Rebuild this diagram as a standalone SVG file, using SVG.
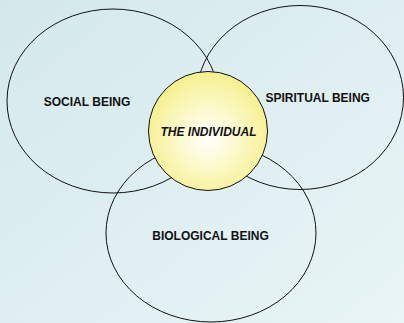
<svg xmlns="http://www.w3.org/2000/svg" width="404" height="323" viewBox="0 0 404 323">
<defs>
<linearGradient id="bg" x1="0" y1="0" x2="1" y2="1">
<stop offset="0" stop-color="#d4e8ec"/>
<stop offset="1" stop-color="#e9f5f7"/>
</linearGradient>
<radialGradient id="yel" cx="0.5" cy="0.55" r="0.55">
<stop offset="0" stop-color="#ffffff"/>
<stop offset="0.35" stop-color="#fdfbd8"/>
<stop offset="1" stop-color="#f6ef8c"/>
</radialGradient>
<style>
.ring{fill:none;stroke:#111;stroke-width:1}
.lbl{font-family:"Liberation Sans",Arial,sans-serif;font-size:12px;font-weight:bold;fill:#111;text-anchor:middle}
</style>
</defs>
<rect width="404" height="323" fill="url(#bg)"/>
<g id="social">
<ellipse class="ring" cx="113" cy="101" rx="106" ry="92"/>
<text class="lbl" x="87" y="105.5">SOCIAL BEING</text>
</g>
<g id="spiritual">
<ellipse class="ring" cx="300" cy="97.5" rx="103.5" ry="92"/>
<text class="lbl" x="317.7" y="101.5">SPIRITUAL BEING</text>
</g>
<g id="biological">
<ellipse class="ring" cx="211" cy="233" rx="105" ry="89"/>
<text class="lbl" x="210.5" y="240">BIOLOGICAL BEING</text>
</g>
<g id="individual">
<circle cx="208" cy="131" r="59.5" fill="url(#yel)" stroke="#111" stroke-width="1"/>
<text class="lbl" x="208.5" y="135.7" font-style="italic">THE INDIVIDUAL</text>
</g>
<g id="connectors"/>
</svg>
